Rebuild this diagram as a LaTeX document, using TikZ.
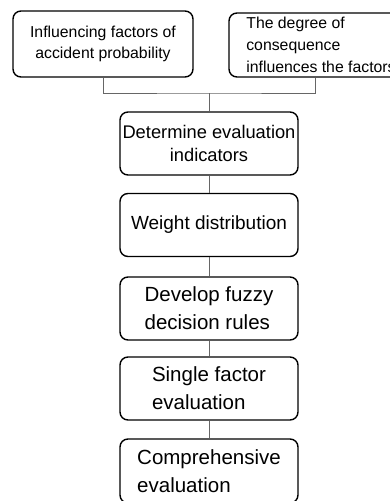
\documentclass[tikz,border=0pt]{standalone}
\usepackage{fontspec}
\setmainfont{Liberation Sans}
\begin{document}
\begin{tikzpicture}[x=1pt,y=-1pt,
  topbox/.style={draw,rounded corners=8pt,line width=1.4pt,minimum width=180pt,minimum height=66pt,inner sep=0pt,font=\fontsize{15.8}{21}\selectfont},
  stepbox/.style={draw,rounded corners=8pt,line width=1.4pt,minimum width=178pt,minimum height=63pt,inner sep=0pt,font=\fontsize{20.5}{28}\selectfont},
  link/.style={draw=black!60,line width=1pt}]
\useasboundingbox (0,0) rectangle (390,501);
\node[topbox,align=center] (b1) at (103,44) {Influencing factors of\\accident probability};
\node[topbox,align=left,minimum width=184pt,minimum height=64pt,font=\fontsize{15.8}{22}\selectfont] (b2) at (321,45) {The degree of\\consequence\\influences the factors};
\coordinate (j) at (209,93);

\node[stepbox,align=center,font=\fontsize{18.3}{23}\selectfont] (b3) at (209,143.5) {Determine evaluation\\indicators};
\node[stepbox,font=\fontsize{19}{23}\selectfont] (b4) at (209,225) {Weight distribution};
\node[stepbox,align=left] (b5) at (209,308.5) {Develop fuzzy\\decision rules};
\node[stepbox,align=left] (b6) at (209,388.5) {Single factor\\evaluation};
\node[stepbox,align=left,minimum height=64pt] (b7) at (209,471) {Comprehensive\\evaluation};

\draw[link] (b1.south) |- (j) -| ([xshift=-6pt]b2.south);
\draw[link] (j) -- (b3);
\foreach \p/\q in {b3/b4,b4/b5,b5/b6,b6/b7}
  \draw[link] (\p) -- (\q);

\end{tikzpicture}
\end{document}
